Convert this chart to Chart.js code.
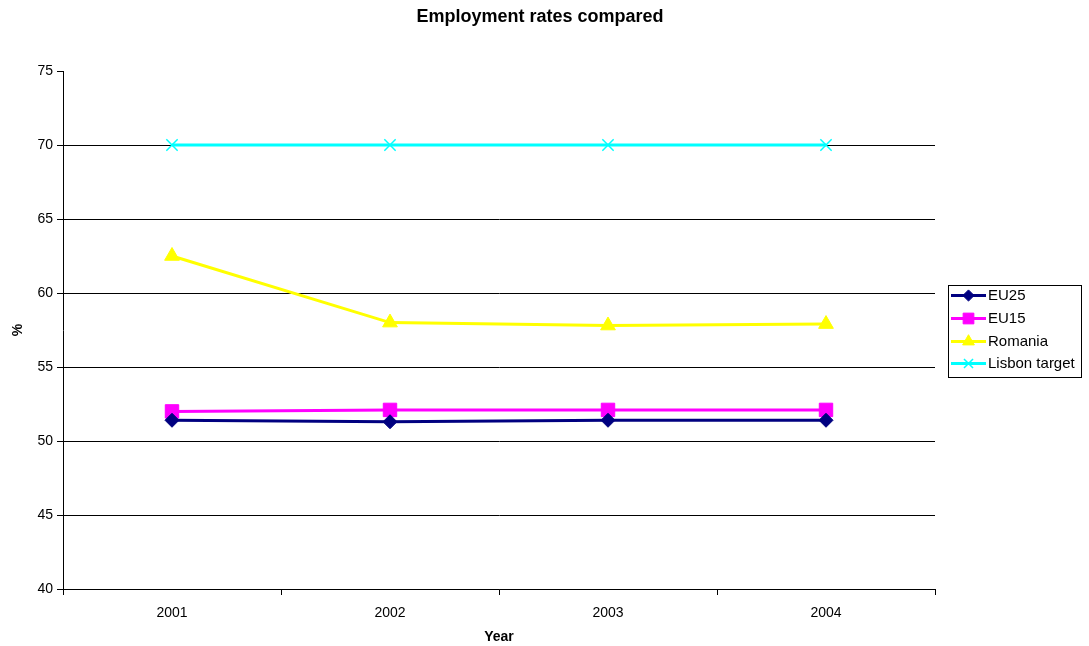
<!DOCTYPE html>
<html>
<head>
<meta charset="utf-8">
<script src="https://cdn.jsdelivr.net/npm/chart.js@4/dist/chart.umd.min.js"></script>
<style>
  html, body { margin: 0; padding: 0; background: #ffffff; }
  canvas { display: block; }
</style>
</head>
<body>
<canvas id="chart" width="1089" height="646"></canvas>
<script>
// Employment rates (%) by year
const years = ['2001', '2002', '2003', '2004'];
const eu25 = [51.4, 51.3, 51.4, 51.4];
const eu15 = [52.0, 52.1, 52.1, 52.1];
const romania = [62.5, 58.0, 57.8, 57.9];
const lisbonTarget = [70, 70, 70, 70];
const yTicks = [40, 45, 50, 55, 60, 65, 70, 75];

const FONT = '"Liberation Sans", Arial, sans-serif';

function series(label, data, color, pointStyle, radius, borderWidth) {
  return {
    label, data,
    borderColor: color,
    backgroundColor: color,
    borderWidth: 3,
    pointStyle,
    pointRadius: radius,
    pointHoverRadius: radius,
    pointBackgroundColor: color,
    pointBorderColor: color,
    pointBorderWidth: borderWidth,
    tension: 0
  };
}

// Chart title drawn above the plot
const titlePlugin = {
  id: 'chartTitle',
  afterDraw(chart) {
    const ctx = chart.ctx;
    ctx.save();
    ctx.fillStyle = '#000';
    ctx.font = 'bold 18px ' + FONT;
    ctx.textAlign = 'center';
    ctx.textBaseline = 'middle';
    ctx.fillText('Employment rates compared', 540, 17);
    ctx.restore();
  }
};

// Boxed legend on the right, line + marker per series
const boxLegend = {
  id: 'boxLegend',
  afterDraw(chart) {
    const ctx = chart.ctx;
    const x = 948, y = 285, w = 133, h = 92;
    ctx.save();
    ctx.fillStyle = '#fff';
    ctx.fillRect(x, y, w, h);
    ctx.strokeStyle = '#000';
    ctx.lineWidth = 1;
    ctx.strokeRect(x + 0.5, y + 0.5, w, h);
    const rows = [295.5, 318.5, 341.5, 363.5];
    chart.data.datasets.forEach((ds, i) => {
      const cy = rows[i];
      ctx.strokeStyle = ds.borderColor;
      ctx.lineWidth = 3;
      ctx.beginPath();
      ctx.moveTo(951, cy);
      ctx.lineTo(986, cy);
      ctx.stroke();
      if (Chart.helpers && Chart.helpers.drawPoint) {
        ctx.fillStyle = ds.pointBackgroundColor;
        ctx.strokeStyle = ds.pointBorderColor;
        ctx.lineWidth = ds.pointBorderWidth;
        Chart.helpers.drawPoint(ctx, {
          pointStyle: ds.pointStyle,
          radius: ds.pointRadius * 0.8,
          borderWidth: ds.pointBorderWidth,
          rotation: 0
        }, 968.5, cy);
      }
      ctx.fillStyle = '#000';
      ctx.font = '15px ' + FONT;
      ctx.textAlign = 'left';
      ctx.textBaseline = 'middle';
      ctx.fillText(ds.label, 988, cy);
    });
    ctx.restore();
  }
};

new Chart(document.getElementById('chart'), {
  type: 'line',
  data: {
    labels: years,
    datasets: [
      series('EU25', eu25, '#000080', 'rectRot', 7, 1),
      series('EU15', eu15, '#FF00FF', 'rect', 9.5, 1),
      series('Romania', romania, '#FFFF00', 'triangle', 8.5, 1),
      series('Lisbon target', lisbonTarget, '#00FFFF', 'crossRot', 8, 1.5)
    ]
  },
  options: {
    responsive: false,
    animation: false,
    layout: { padding: { top: 71, right: 154, left: 0, bottom: 0 } },
    plugins: {
      legend: { display: false },
      title: { display: false },
      tooltip: { enabled: false }
    },
    scales: {
      x: {
        type: 'category',
        offset: true,
        afterFit(scale) { scale.height = 57; },
        grid: {
          offset: true,
          drawOnChartArea: false,
          drawTicks: true,
          tickLength: 6,
          color: '#000',
          tickColor: '#000'
        },
        border: { display: true, color: '#000', width: 1 },
        ticks: {
          color: '#000',
          font: { family: FONT, size: 14 },
          padding: 10,
          maxRotation: 0,
          autoSkip: false
        },
        title: {
          display: true,
          text: 'Year',
          color: '#000',
          font: { family: FONT, size: 14, weight: 'bold' },
          padding: { top: 0, bottom: 0 }
        }
      },
      y: {
        min: 40,
        max: 75,
        afterFit(scale) { scale.width = 63; },
        afterBuildTicks(scale) { scale.ticks = yTicks.map(v => ({ value: v })); },
        grid: {
          drawTicks: true,
          tickLength: 6,
          color: (c) => (c.tick && c.tick.value === 75) ? 'rgba(0,0,0,0)' : '#000',
          tickColor: '#000',
          lineWidth: 1
        },
        border: { display: true, color: '#000', width: 1 },
        ticks: {
          color: '#000',
          font: { family: FONT, size: 14 },
          padding: 4
        },
        title: {
          display: true,
          text: '%',
          color: '#000',
          font: { family: FONT, size: 14, weight: 'bold' },
          padding: { top: 10, bottom: 0 }
        }
      }
    }
  },
  plugins: [titlePlugin, boxLegend]
});
</script>
</body>
</html>
